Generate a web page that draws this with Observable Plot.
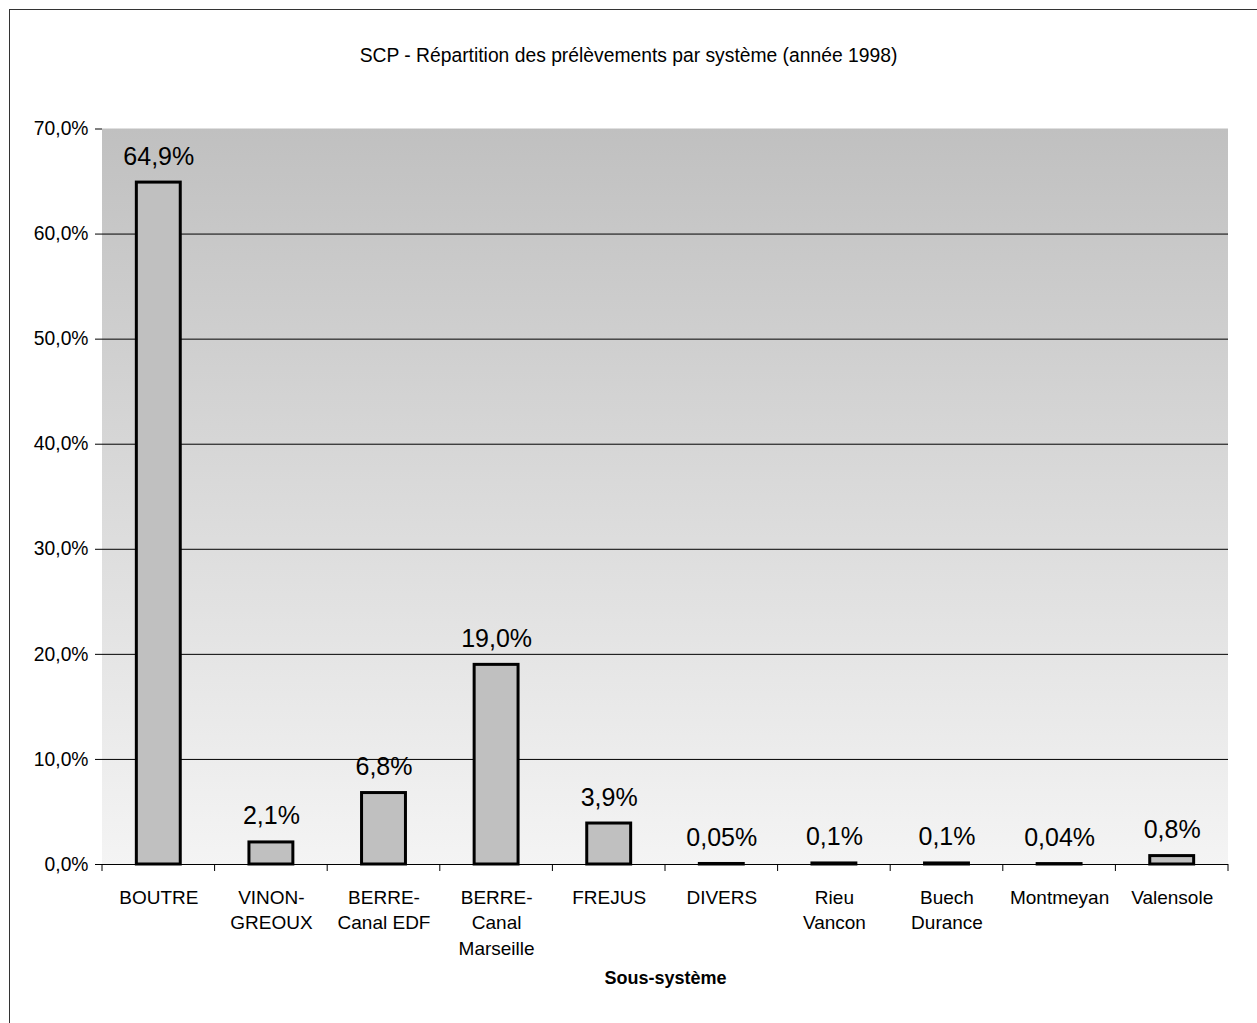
<!DOCTYPE html>
<html>
<head>
<meta charset="utf-8">
<script src="https://cdn.jsdelivr.net/npm/d3@7"></script>
<script src="https://cdn.jsdelivr.net/npm/@observablehq/plot@0.6"></script>
<style>
  body { margin: 0; background: #fff; font-family: "Liberation Sans", Arial, sans-serif; }
  #page { position: relative; width: 1257px; height: 1023px; overflow: hidden; background: #fff; }
  #border { position: absolute; left: 9px; top: 9px; width: 3000px; height: 3000px; border-left: 1.5px solid #333; border-top: 1.5px solid #333; }
  #title { position: absolute; left: 0; width: 1257px; top: 45px; text-align: center; font-size: 19.3px; color: #000; }
  #chart { position: absolute; left: 0; top: 100px; }
</style>
</head>
<body>
<div id="page">
  <div id="border"></div>
  <div id="title">SCP - Répartition des prélèvements par système (année 1998)</div>
  <div id="chart"></div>
</div>
<script>
const categories = ["BOUTRE", "VINON-\nGREOUX", "BERRE-\nCanal EDF", "BERRE-\nCanal\nMarseille", "FREJUS", "DIVERS", "Rieu\nVancon", "Buech\nDurance", "Montmeyan", "Valensole"];
const values = [64.9, 2.1, 6.8, 19.0, 3.9, 0.05, 0.1, 0.1, 0.04, 0.8];
const valueLabels = ["64,9%", "2,1%", "6,8%", "19,0%", "3,9%", "0,05%", "0,1%", "0,1%", "0,04%", "0,8%"];
const yTicks = [0, 10, 20, 30, 40, 50, 60, 70];
const gridTicks = [10, 20, 30, 40, 50, 60];
const xTitle = "Sous-système";

const data = categories.map((c, i) => ({cat: c, value: values[i], label: valueLabels[i]}));

// background gradient
function background(index, scales, values, dim) {
  const ns = "http://www.w3.org/2000/svg";
  const g = document.createElementNS(ns, "g");
  const defs = document.createElementNS(ns, "defs");
  const lg = document.createElementNS(ns, "linearGradient");
  lg.setAttribute("id", "bg");
  lg.setAttribute("x1", "0"); lg.setAttribute("y1", "0");
  lg.setAttribute("x2", "0"); lg.setAttribute("y2", "1");
  [["0", "#c0c0c0"], ["1", "#f4f4f4"]].forEach(([o, c]) => {
    const s = document.createElementNS(ns, "stop");
    s.setAttribute("offset", o); s.setAttribute("stop-color", c);
    lg.appendChild(s);
  });
  defs.appendChild(lg);
  g.appendChild(defs);
  const r = document.createElementNS(ns, "rect");
  r.setAttribute("x", dim.marginLeft);
  r.setAttribute("y", dim.marginTop);
  r.setAttribute("width", dim.width - dim.marginLeft - dim.marginRight);
  r.setAttribute("height", dim.height - dim.marginTop - dim.marginBottom);
  r.setAttribute("fill", "url(#bg)");
  g.appendChild(r);
  return g;
}
// tick marks on the category boundaries
function bandTicks(index, scales, values, dim) {
  const ns = "http://www.w3.org/2000/svg";
  const g = document.createElementNS(ns, "g");
  const n = categories.length;
  const x0 = dim.marginLeft, x1 = dim.width - dim.marginRight;
  const y = dim.height - dim.marginBottom;
  for (let i = 0; i <= n; i++) {
    const x = x0 + (x1 - x0) * i / n;
    const l = document.createElementNS(ns, "line");
    l.setAttribute("x1", x); l.setAttribute("x2", x);
    l.setAttribute("y1", y); l.setAttribute("y2", y + 7);
    l.setAttribute("stroke", "#000");
    l.setAttribute("stroke-width", 1);
    g.appendChild(l);
  }
  return g;
}

const chart = Plot.plot({
  width: 1257,
  height: 900,
  marginTop: 28.5,
  marginBottom: 136,
  marginLeft: 102,
  marginRight: 29,
  style: {fontFamily: "'Liberation Sans', Arial, sans-serif", fontSize: "19px", color: "#000", background: "transparent"},
  x: {domain: categories, padding: 0.61, paddingOuter: 0.305, round: false, label: null},
  y: {domain: [0, 70], label: null},
  marks: [
    background,
    Plot.ruleY(gridTicks, {stroke: "#000", strokeWidth: 1}),
    Plot.ruleX([0], {frameAnchor: "left", stroke: "#808080", strokeWidth: 1}),
    Plot.axisY(yTicks, {tickSize: 7, tickPadding: 7, stroke: "#000", fontSize: 19.3, tickFormat: d => d.toFixed(1).replace(".", ",") + "%", label: null}),
    Plot.axisX({tickSize: 0, tickPadding: 21, fontSize: 19, lineHeight: 1.35, label: null}),
    bandTicks,
    Plot.barY(data, {x: "cat", y: "value", fill: "#c0c0c0", stroke: "#000", strokeWidth: 3}),
    Plot.ruleY([0], {stroke: "#000", strokeWidth: 1}),
    Plot.text(data, {x: "cat", y: "value", text: "label", dy: -26, fontSize: 25, fill: "#000"}),
    Plot.text([xTitle], {frameAnchor: "bottom", dy: 119, fontSize: 18, fontWeight: "bold", fill: "#000"})
  ]
});
document.getElementById("chart").appendChild(chart);
</script>
</body>
</html>
